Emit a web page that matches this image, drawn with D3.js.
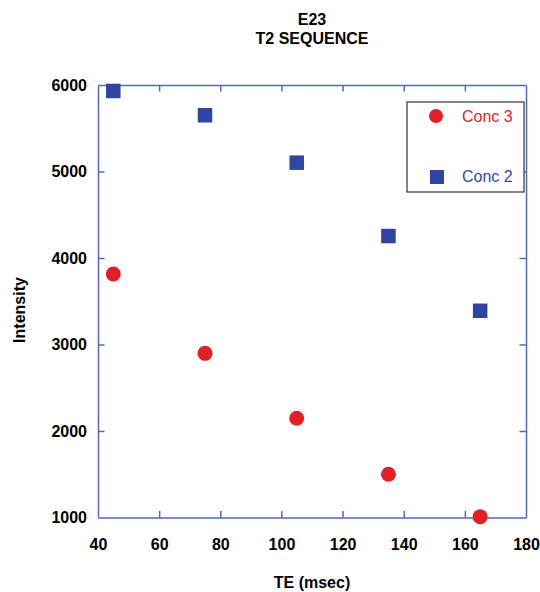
<!DOCTYPE html>
<html>
<head>
<meta charset="utf-8">
<script src="https://cdn.jsdelivr.net/npm/d3@7"></script>
<style>
  html, body { margin: 0; padding: 0; background: #ffffff; }
  svg { display: block; font-family: "Liberation Sans", Arial, sans-serif; }
</style>
</head>
<body>
<svg id="chart" width="540" height="592"></svg>
<script>
// ---- data ----
const titleLines = ["E23", "T2 SEQUENCE"];
const xLabel = "TE (msec)";
const yLabel = "Intensity";
const teValues = [45, 75, 105, 135, 165];
const conc3 = [3815, 2898, 2147, 1500, 1010];
const conc2 = [5931, 5650, 5102, 4254, 3390];
const seriesNames = ["Conc 3", "Conc 2"];
const xTicks = [40, 60, 80, 100, 120, 140, 160, 180];
const yTicks = [1000, 2000, 3000, 4000, 5000, 6000];

// ---- layout ----
const svg = d3.select("#chart");
const L = 98, R = 526, T = 85, B = 517.5;
const axisColor = "#5566bb";
const red = "#e01f26";
const blue = "#2f45a0";

const x = d3.scaleLinear().domain([40, 180]).range([L, R]);
const y = d3.scaleLinear().domain([1000, 6000]).range([B, T]);

// titles
svg.append("text").attr("x", 312).attr("y", 25).attr("text-anchor", "middle")
  .attr("font-size", 16).attr("font-weight", "bold").text(titleLines[0]);
svg.append("text").attr("x", 312).attr("y", 44).attr("text-anchor", "middle")
  .attr("font-size", 16).attr("font-weight", "bold").text(titleLines[1]);

// axes
function styleAxis(g) {
  g.selectAll("path.domain").attr("stroke", axisColor).attr("stroke-width", 1.5);
  g.selectAll(".tick line").attr("stroke", axisColor).attr("stroke-width", 1.5);
  g.selectAll(".tick text").attr("fill", "#000").attr("font-size", 16)
    .attr("font-weight", "bold").attr("font-family", "'Liberation Sans', Arial, sans-serif");
}
const fmt = d3.format("d");
const gB = svg.append("g").attr("transform", `translate(0,${B})`)
  .call(d3.axisBottom(x).tickValues(xTicks).tickFormat(fmt).tickSizeInner(-6.5).tickSizeOuter(0).tickPadding(21.5));
styleAxis(gB);
gB.selectAll(".tick").filter(d => d === 40 || d === 180).select("line").remove();

const gT = svg.append("g").attr("transform", `translate(0,${T})`)
  .call(d3.axisTop(x).tickValues(xTicks).tickSizeInner(-6.5).tickSizeOuter(0).tickFormat(""));
styleAxis(gT);
gT.selectAll(".tick").filter(d => d === 40 || d === 180).select("line").remove();

const gL = svg.append("g").attr("transform", `translate(${L},0)`)
  .call(d3.axisLeft(y).tickValues(yTicks).tickFormat(fmt).tickSizeInner(-6.5).tickSizeOuter(0).tickPadding(11));
styleAxis(gL);
gL.selectAll(".tick").filter(d => d === 1000 || d === 6000).select("line").remove();

const gR = svg.append("g").attr("transform", `translate(${R},0)`)
  .call(d3.axisRight(y).tickValues(yTicks).tickSizeInner(-6.5).tickSizeOuter(0).tickFormat(""));
styleAxis(gR);
gR.selectAll(".tick").filter(d => d === 1000 || d === 6000).select("line").remove();

// axis titles
svg.append("text").attr("x", 312).attr("y", 588).attr("text-anchor", "middle")
  .attr("font-size", 16).attr("font-weight", "bold").text(xLabel);
svg.append("text").attr("transform", "translate(25,310) rotate(-90)").attr("text-anchor", "middle")
  .attr("font-size", 16).attr("font-weight", "bold").text(yLabel);

// data: Conc 2 squares
const sq = 14.5;
svg.append("g").selectAll("rect").data(teValues.map((t, i) => [t, conc2[i]])).join("rect")
  .attr("x", d => x(d[0]) - sq / 2).attr("y", d => y(d[1]) - sq / 2)
  .attr("width", sq).attr("height", sq).attr("fill", blue);

// data: Conc 3 circles
svg.append("g").selectAll("circle").data(teValues.map((t, i) => [t, conc3[i]])).join("circle")
  .attr("cx", d => x(d[0])).attr("cy", d => y(d[1])).attr("r", 7.5).attr("fill", red);

// legend
const lg = svg.append("g");
lg.append("rect").attr("x", 407).attr("y", 102).attr("width", 117).attr("height", 90)
  .attr("fill", "#fff").attr("stroke", "#333").attr("stroke-width", 1.2);
lg.append("circle").attr("cx", 436).attr("cy", 116).attr("r", 7).attr("fill", red);
lg.append("text").attr("x", 462).attr("y", 122).attr("font-size", 16).attr("fill", red).text(seriesNames[0]);
lg.append("rect").attr("x", 437 - 7).attr("y", 177 - 7).attr("width", 14).attr("height", 14).attr("fill", blue);
lg.append("text").attr("x", 462).attr("y", 182).attr("font-size", 16).attr("fill", "#3347a6").text(seriesNames[1]);
</script>
</body>
</html>
